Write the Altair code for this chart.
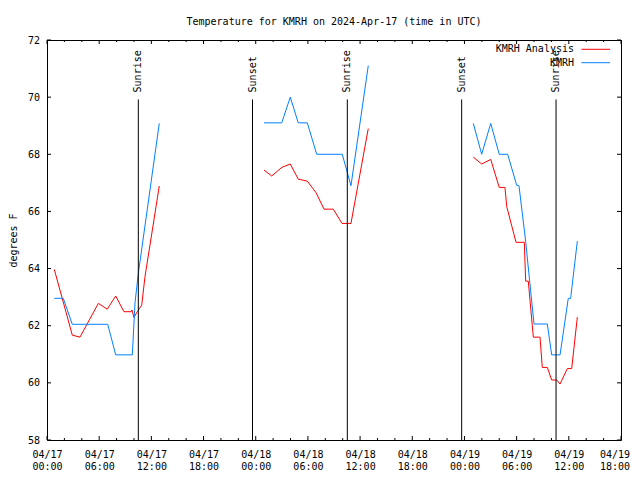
import json
import altair as alt
import pandas as pd

FONT = "DejaVu Sans Mono"

# time axis: hours since 2024-04-17 00:00 UTC
x_major_ticks = [0, 6, 12, 18, 24, 30, 36, 42, 48, 54, 60, 66]
x_tick_labels = [
    ["04/17", "00:00"], ["04/17", "06:00"], ["04/17", "12:00"], ["04/17", "18:00"],
    ["04/18", "00:00"], ["04/18", "06:00"], ["04/18", "12:00"], ["04/18", "18:00"],
    ["04/19", "00:00"], ["04/19", "06:00"], ["04/19", "12:00"], ["04/19", "18:00"],
]
x_minor_ticks = [2, 4, 8, 10, 14, 16, 20, 22, 26, 28, 32, 34, 38, 40, 44, 46, 50, 52, 56, 58, 62, 64]
y_ticks = [58, 60, 62, 64, 66, 68, 70, 72]

series_names = ["KMRH Analysis", "KMRH"]
series_colors = ["#ff0000", "#0080ff"]

# KMRH Analysis (red), three separate pieces
red_t_1 = [0.84, 2.91, 3.79, 5.90, 6.93, 7.90, 8.85, 9.66, 9.77, 10.0, 10.38, 10.89, 11.27, 12.91]
red_v_1 = [63.97, 61.67, 61.6, 62.78, 62.58, 63.04, 62.49, 62.49, 62.55, 62.29, 62.49, 62.72, 63.72, 66.89]
red_t_2 = [24.95, 25.84, 26.99, 27.97, 28.89, 29.93, 30.93, 31.85, 32.92, 33.92, 34.95, 36.94]
red_v_2 = [67.45, 67.24, 67.54, 67.66, 67.13, 67.06, 66.66, 66.08, 66.08, 65.58, 65.58, 68.9]
red_t_3 = [49.02, 49.98, 51.02, 52.0, 52.66, 52.86, 53.93, 54.88, 55.04, 55.34, 55.92, 56.69,
           56.95, 57.53, 58.03, 58.61, 58.99, 59.83, 60.33, 60.98]
red_v_3 = [67.9, 67.66, 67.82, 66.84, 66.84, 66.17, 64.92, 64.92, 63.56, 63.56, 61.6, 61.6,
           60.54, 60.54, 60.1, 60.1, 59.96, 60.5, 60.5, 62.3]

# KMRH observations (blue)
blue_t_1 = [0.84, 1.87, 2.91, 6.98, 7.90, 9.81, 10.12, 10.5, 12.91]
blue_v_1 = [62.96, 62.96, 62.05, 62.05, 60.98, 60.98, 62.8, 63.83, 69.08]
blue_t_2 = [24.95, 26.99, 27.97, 28.89, 29.93, 31.01, 33.95, 34.95, 36.94]
blue_v_2 = [69.1, 69.1, 70.0, 69.1, 69.1, 68.0, 68.0, 66.9, 71.1]
blue_t_3 = [49.02, 49.98, 51.02, 52.0, 52.97, 54.0, 54.27, 55.02, 56.0, 57.53, 58.03, 58.99,
            59.94, 60.21, 60.98]
blue_v_3 = [69.08, 68.0, 69.08, 68.0, 68.0, 66.92, 66.9, 65.0, 62.06, 62.06, 60.98, 60.98,
            62.96, 62.96, 64.96]

event_t = [10.5, 23.63, 34.53, 47.68, 58.53]
event_label = ["Sunrise", "Sunset", "Sunrise", "Sunset", "Sunrise"]
event_top = 69.92

rows = []
pieces = [
    ("KMRH Analysis", "a1", red_t_1, red_v_1),
    ("KMRH Analysis", "a2", red_t_2, red_v_2),
    ("KMRH Analysis", "a3", red_t_3, red_v_3),
    ("KMRH", "b1", blue_t_1, blue_v_1),
    ("KMRH", "b2", blue_t_2, blue_v_2),
    ("KMRH", "b3", blue_t_3, blue_v_3),
]
for name, seg, ts, vs in pieces:
    for t, v in zip(ts, vs):
        rows.append({"series": name, "seg": seg, "t": t, "v": v})
df = pd.DataFrame(rows)
events = pd.DataFrame({"t": event_t, "label": event_label})
major = pd.DataFrame({"t": x_major_ticks})
minor = pd.DataFrame({"t": x_minor_ticks})
yt = pd.DataFrame({"v": y_ticks})

XS = alt.Scale(domain=[0, 66], nice=False, zero=False)
YS = alt.Scale(domain=[58, 72], nice=False, zero=False)

LAB_PAD = 9.5
LAB_LH = 12

# all but the last tick label go on the axis; the last one is drawn as a text mark
axis_vals = x_major_ticks[:-1]
axis_labels = x_tick_labels[:-1]
label_expr = f"{json.dumps(axis_labels)}[indexof({json.dumps(axis_vals)}, datum.value)]"
last_lab = pd.DataFrame({"t": [x_major_ticks[-1]], "lab": ["\n".join(x_tick_labels[-1])]})

lines = alt.Chart(df).mark_line(strokeWidth=1, interpolate="linear").encode(
    x=alt.X("t:Q", scale=XS, axis=alt.Axis(
        values=axis_vals, labelExpr=label_expr, ticks=False, domain=False, grid=False,
        labelFlush=False, labelOverlap=False, labelPadding=LAB_PAD, labelFont=FONT, labelFontSize=10,
        labelColor="black", labelLineHeight=LAB_LH, title=None)),
    y=alt.Y("v:Q", scale=YS, axis=alt.Axis(
        values=y_ticks, ticks=False, domain=False, grid=False, labelFlush=False,
        labelPadding=7.5, labelFont=FONT, labelFontSize=10, labelColor="black",
        title="degrees F", titleFont=FONT, titleFontSize=10, titleFontWeight="normal",
        titleColor="black", titleAngle=270, titleX=-34, titleY=200,
        titleAlign="center", titleBaseline="middle")),
    color=alt.Color("series:N", scale=alt.Scale(domain=series_names, range=series_colors),
                    legend=None),
    detail="seg:N",
    order="t:Q",
)

last_text = alt.Chart(last_lab).mark_text(
    align="center", baseline="top", lineBreak="\n", lineHeight=LAB_LH, dx=-6,
    font=FONT, fontSize=10, color="black"
).encode(x=alt.X("t:Q", scale=XS), y=alt.value(400 + LAB_PAD), text="lab:N")

ev_rules = alt.Chart(events).mark_rule(color="black", strokeWidth=1).encode(
    x=alt.X("t:Q", scale=XS),
    y=alt.datum(58),
    y2=alt.datum(event_top),
)
ev_text = alt.Chart(events).mark_text(
    angle=270, align="left", baseline="middle", dx=7, font=FONT, fontSize=10, color="black"
).encode(
    x=alt.X("t:Q", scale=XS),
    y=alt.datum(event_top),
    text="label:N",
)

tick_style = dict(color="black", strokeWidth=1)
maj_bot = alt.Chart(major).mark_rule(**tick_style).encode(
    x=alt.X("t:Q", scale=XS), y=alt.value(400), y2=alt.value(396))
maj_top = alt.Chart(major).mark_rule(**tick_style).encode(
    x=alt.X("t:Q", scale=XS), y=alt.value(0), y2=alt.value(4))
min_bot = alt.Chart(minor).mark_rule(**tick_style).encode(
    x=alt.X("t:Q", scale=XS), y=alt.value(400), y2=alt.value(398))
min_top = alt.Chart(minor).mark_rule(**tick_style).encode(
    x=alt.X("t:Q", scale=XS), y=alt.value(0), y2=alt.value(2))
y_left = alt.Chart(yt).mark_rule(**tick_style).encode(
    y=alt.Y("v:Q", scale=YS), x=alt.value(0), x2=alt.value(4))
y_right = alt.Chart(yt).mark_rule(**tick_style).encode(
    y=alt.Y("v:Q", scale=YS), x=alt.value(574), x2=alt.value(570))

# legend (top right, label then line sample)
legend_df = pd.DataFrame({"series": series_names, "color": series_colors})
legend_layers = []
for i, (name, col) in enumerate(zip(series_names, series_colors)):
    sub = legend_df[legend_df["series"] == name]
    ly = 9.3 + 13.4 * i
    legend_layers.append(
        alt.Chart(sub).mark_text(align="right", baseline="middle", font=FONT, fontSize=10,
                                 color="black").encode(
            x=alt.value(527), y=alt.value(ly), text="series:N"))
    legend_layers.append(
        alt.Chart(sub).mark_rule(strokeWidth=1, color=col).encode(
            x=alt.value(534.5), x2=alt.value(563), y=alt.value(ly)))

chart = alt.layer(
    lines, ev_rules, ev_text, maj_bot, maj_top, min_bot, min_top, y_left, y_right,
    last_text, *legend_layers
).properties(
    width=574, height=400,
    padding={"left": 39, "top": 32, "right": 11, "bottom": 32},
    autosize=alt.AutoSizeParams(type="none"),
    title=alt.Title("Temperature for KMRH on 2024-Apr-17 (time in UTC)", font=FONT, fontSize=10,
                    fontWeight="normal", anchor="middle", baseline="alphabetic", offset=0,
                    frame="group", color="black"),
    background="white",
).configure_view(stroke="black", strokeWidth=1)

chart.save("out.html", embed_options={"renderer": "svg", "actions": False})
